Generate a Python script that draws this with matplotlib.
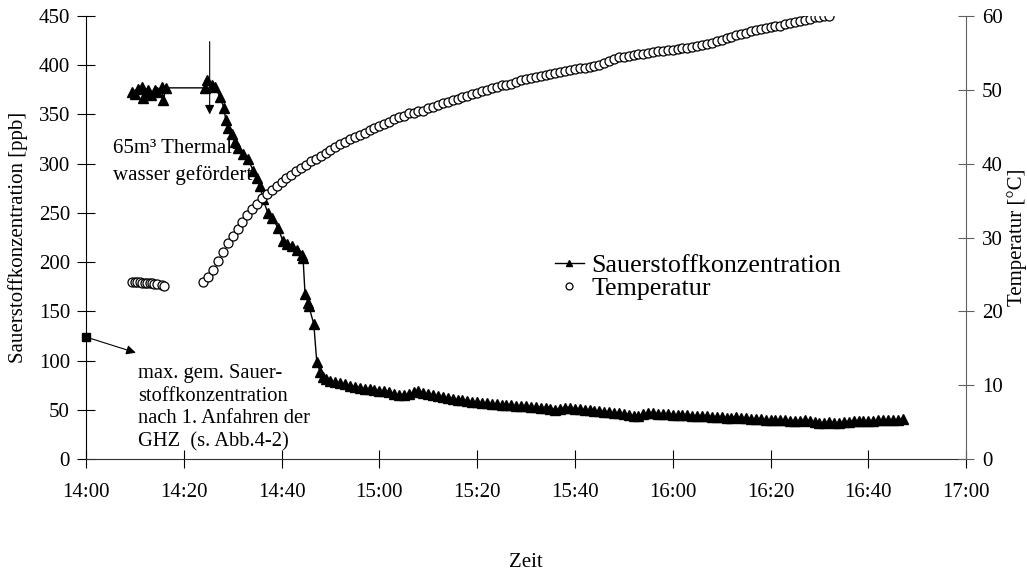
import numpy as np
import matplotlib.pyplot as plt
from matplotlib.lines import Line2D

plt.rcParams['font.family'] = ['Liberation Serif', 'DejaVu Serif']

# time axis: minutes after 14:00
tick_minutes = [0, 20, 40, 60, 80, 100, 120, 140, 160, 180]
tick_labels = ["14:00", "14:20", "14:40", "15:00", "15:20", "15:40",
               "16:00", "16:20", "16:40", "17:00"]

# oxygen, first samples before the pump start
o2_start_t = [9.4, 10.0, 10.6, 11.4, 11.7, 12.2, 12.7, 13.3, 14.1, 14.6, 15.5, 15.8, 16.4]
o2_start = [373, 371, 376, 378, 367, 372, 375, 370, 375, 373, 378, 365, 377]

# oxygen while the thermal water is pumped (irregular sampling)
o2_drop_t = [24.3, 24.7, 25.7, 26.4, 27.4, 28.2, 28.6, 29.0, 29.8, 30.5, 31.1, 32.1,
             33.1, 34.2, 35.0, 35.6, 36.2, 37.2, 38.0, 39.3, 40.3, 41.2, 42.1, 43.2,
             44.2, 44.4, 44.8, 45.4, 45.6, 46.6, 47.2, 47.9, 48.4]
o2_drop = [377, 385, 380, 378, 368, 357, 344, 336, 330, 322, 316, 310,
           305, 293, 285, 277, 264, 250, 245, 235, 221, 218, 216, 212,
           207, 204, 168, 159, 155, 137, 99, 88, 83]

# oxygen, one value per minute from 14:49 to 16:47
o2_tail_start = 49
o2_tail = [81, 79, 78, 77, 76, 74, 73, 72, 71, 71, 70, 69, 69, 68, 66, 65, 65, 66, 68, 69,
           67, 66, 65, 64, 63, 62, 61, 60, 60, 59, 58, 58, 57, 57, 56, 56, 55, 55, 55, 54,
           54, 54, 53, 53, 52, 52, 51, 50, 51, 52, 52, 51, 51, 50, 50, 49, 49, 48, 48, 47,
           47, 46, 45, 44, 44, 46, 47, 47, 46, 46, 46, 45, 45, 45, 45, 44, 44, 44, 44, 43,
           43, 43, 42, 42, 43, 42, 42, 41, 41, 41, 40, 40, 40, 40, 40, 39, 39, 39, 40, 39,
           38, 37, 37, 38, 37, 37, 38, 38, 39, 39, 39, 39, 39, 40, 40, 40, 40, 40, 41]

# temperature before the pump start
temp_start_t = [9.5, 10.0, 10.5, 11.0, 11.5, 12.0, 12.5, 13.0, 13.5, 14.0, 14.5, 15.5, 16.0]
temp_start = [24.0, 24.0, 24.0, 24.0, 23.9, 23.9, 23.9, 23.8, 23.8, 23.7, 23.7, 23.6, 23.5]

# temperature, one value per minute from 14:24 to 16:32
temp_main_start = 24
temp_main = [24.0, 24.6, 25.6, 26.8, 28.0, 29.2, 30.2, 31.2, 32.1, 33.0, 33.8, 34.6, 35.3,
             35.9, 36.5, 37.0, 37.5, 38.0, 38.5, 39.0, 39.4, 39.8, 40.3, 40.7, 41.1, 41.5,
             41.9, 42.2, 42.6, 42.9, 43.3, 43.6, 43.9, 44.2, 44.5, 44.8, 45.1, 45.4, 45.7,
             46.0, 46.3, 46.5, 46.8, 46.9, 47.1, 47.2, 47.5, 47.7, 47.9, 48.2, 48.4, 48.6,
             48.8, 49.0, 49.2, 49.4, 49.6, 49.8, 50.0, 50.2, 50.4, 50.6, 50.7, 50.8, 51.1,
             51.3, 51.4, 51.6, 51.7, 51.9, 52.0, 52.1, 52.3, 52.4, 52.5, 52.7, 52.8, 52.9,
             53.0, 53.1, 53.2, 53.4, 53.6, 53.9, 54.2, 54.4, 54.5, 54.6, 54.7, 54.8, 54.9,
             55.0, 55.1, 55.2, 55.3, 55.4, 55.4, 55.5, 55.6, 55.7, 55.8, 55.9, 56.1, 56.2,
             56.4, 56.6, 56.8, 57.0, 57.2, 57.4, 57.6, 57.7, 57.9, 58.1, 58.2, 58.4, 58.5,
             58.6, 58.7, 58.9, 59.0, 59.2, 59.3, 59.5, 59.6, 59.8, 59.9, 60.0, 60.0]

# highest oxygen value after the first start of the plant
o2_max_t = 0
o2_max = 124

o2_t = np.concatenate([o2_start_t, o2_drop_t, o2_tail_start + np.arange(len(o2_tail))])
o2 = np.concatenate([o2_start, o2_drop, o2_tail])
temp_t = np.array(temp_start_t)
temp_t2 = temp_main_start + np.arange(len(temp_main))

fig = plt.figure(figsize=(10.27, 5.71), dpi=100)
ax1 = fig.add_axes([0.0837, 0.196, 0.857, 0.776])
ax2 = ax1.twinx()

ax1.plot(o2_t, o2, color='black', lw=1.0, marker='^', ms=7, mfc='black', mec='black')
ax1.plot([o2_max_t], [o2_max], marker='s', ms=6, color='black', clip_on=False, zorder=5)

ax2.plot(temp_t, temp_start, ls='none', marker='o', ms=6.5, mfc='white', mec='black', mew=0.9)
ax2.plot(temp_t2, temp_main, ls='none', marker='o', ms=6.5, mfc='white', mec='black', mew=0.9)

ax1.set_xlim(0, 180)
ax1.set_ylim(0, 450)
ax2.set_ylim(0, 60)
ax1.set_xticks(tick_minutes)
ax1.set_xticklabels(tick_labels)
ax1.set_yticks(range(0, 451, 50))
ax2.set_yticks(range(0, 61, 10))

for ax in (ax1, ax2):
    ax.spines['top'].set_visible(False)
ax1.spines['right'].set_visible(False)
ax2.spines['left'].set_visible(False)
ax2.spines['bottom'].set_visible(False)
ax1.spines['left'].set_color('black')
ax1.spines['bottom'].set_color('#303030')
ax2.spines['right'].set_color('#606060')

ax1.tick_params(axis='y', direction='inout', length=13, width=0.8, labelsize=15, pad=5)
ax1.tick_params(axis='x', direction='inout', length=13, width=0.8, labelsize=15, pad=11)
ax2.tick_params(axis='y', direction='inout', length=11, width=0.8, labelsize=15, pad=6,
                color='#606060')

ax1.set_ylabel("Sauerstoffkonzentration [ppb]", fontsize=15)
ax1.yaxis.set_label_coords(-0.066, 0.5)
ax2.set_ylabel("Temperatur [°C]", fontsize=15)
ax2.yaxis.set_label_coords(1.047, 0.5)
ax1.set_xlabel("Zeit", fontsize=15)
ax1.xaxis.set_label_coords(0.5, -0.212)

# pumping start marker
ax1.annotate("", xy=(25.3, 350), xytext=(25.3, 424),
             arrowprops=dict(arrowstyle='-|>', color='black', lw=0.8,
                             mutation_scale=14, shrinkA=0, shrinkB=0))
ax1.text(5.5, 315, "65m³ Thermal-", fontsize=15, va='center', ha='left', zorder=10)
ax1.text(5.5, 288, "wasser gefördert", fontsize=15, va='center', ha='left', zorder=10)

ax1.annotate("", xy=(10.2, 108), xytext=(o2_max_t, o2_max),
             arrowprops=dict(arrowstyle='-|>', color='black', lw=0.8,
                             mutation_scale=14, shrinkA=0, shrinkB=0))
ax1.text(10.6, 52, "max. gem. Sauer-\nstoffkonzentration\nnach 1. Anfahren der\nGHZ  (s. Abb.4-2)",
         fontsize=14.8, va='center', ha='left', linespacing=1.25, zorder=10)

handles = [Line2D([], [], color='black', lw=1.0, marker='^', ms=5),
           Line2D([], [], ls='none', marker='o', ms=5, mfc='white', mec='black', mew=0.9)]
ax2.legend(handles, ["Sauerstoffkonzentration", "Temperatur"], loc='upper left',
           bbox_to_anchor=(0.5404, 0.555), bbox_transform=fig.transFigure, frameon=False,
           fontsize=18.7, borderpad=0, borderaxespad=0, handlelength=1.1,
           handletextpad=0.3, labelspacing=0.0, numpoints=1)

fig.savefig("out.png", dpi=100)
